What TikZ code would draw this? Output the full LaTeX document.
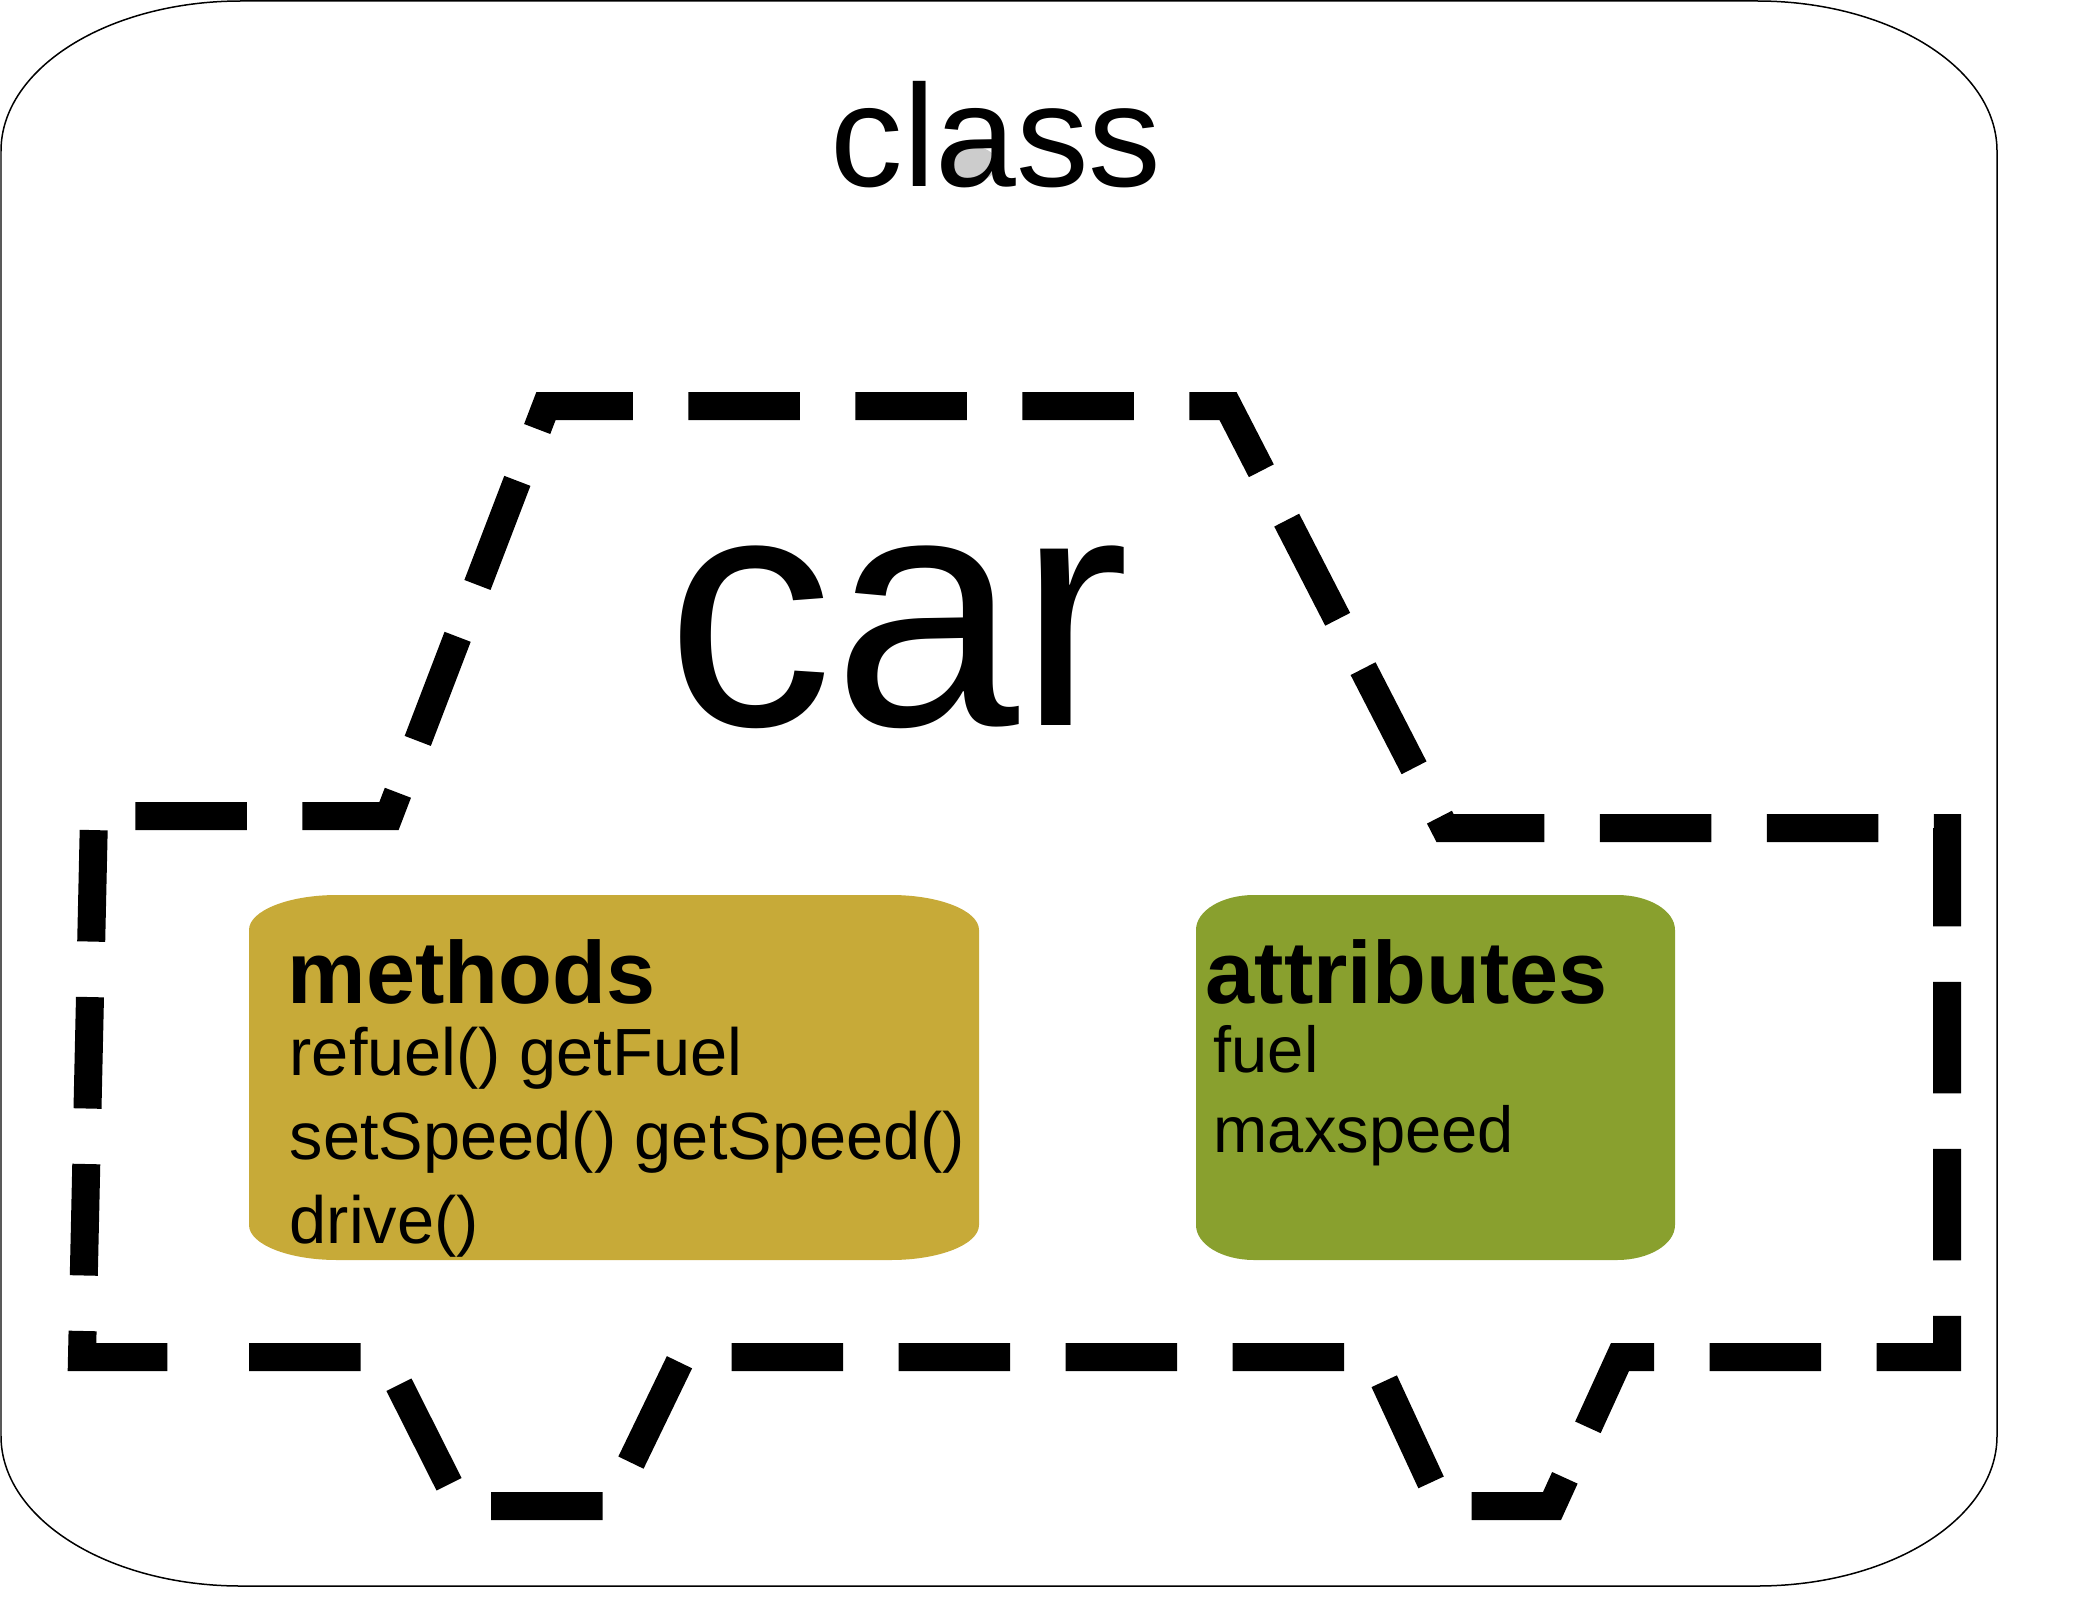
\documentclass[tikz,border=0pt]{standalone}
\usepackage{fontspec}
\setmainfont{Liberation Sans}
\usepackage{tikz}
\usetikzlibrary{positioning}
\definecolor{methgold}{RGB}{199,170,56}
\definecolor{attrgreen}{RGB}{137,160,46}

\tikzset{
  carline/.style={line width=2.8mm, dash pattern=on 11.15mm off 5.55mm, dash phase=13.9mm, line join=miter},
  boxtitle/.style={font=\fontsize{25.1}{27}\selectfont\bfseries, inner sep=0pt, anchor=base west},
  entry/.style={font=\fontsize{19}{21}\selectfont, inner sep=0pt, anchor=base west},
}

% box with oval corners: options, x1, y1, x2, y2, x radius, y radius
\newcommand{\softbox}[7]{%
  \path[#1] ({#2+#6},#3) -- ({#4-#6},#3)
    arc[start angle=270, end angle=360, x radius=#6, y radius=#7] -- (#4,{#5-#7})
    arc[start angle=0, end angle=90, x radius=#6, y radius=#7] -- ({#2+#6},#5)
    arc[start angle=90, end angle=180, x radius=#6, y radius=#7] -- (#2,{#3+#7})
    arc[start angle=180, end angle=270, x radius=#6, y radius=#7] -- cycle;}

\begin{document}
\begin{tikzpicture}[x=0.1mm, y=-0.1mm]
    \useasboundingbox (0,0) rectangle (2076,1624);

    % Outer class frame
    \softbox{draw, line width=0.15mm}{1}{1}{1997}{1586}{240}{150}
    \fill[gray!40] (975,164) ellipse[x radius=22, y radius=17];
    \node[font=\fontsize{41.3}{44}\selectfont, inner sep=0pt, anchor=base] (cls) at (996,187) {class};

    % Car outline (starts in a gap of the bottom line)
    \draw[carline] (221,1357) -- (385,1357) -- (460,1506) -- (610,1506) -- (682,1357)
        -- (1373,1357) -- (1442,1506) -- (1552,1506) -- (1620,1357) -- (1947,1357)
        -- (1947,828) -- (1445,828) -- (1228,406) -- (546,406) -- (389,816) -- (94,816)
        -- (82,1357) -- cycle;
    \node[font=\fontsize{95}{100}\selectfont, inner sep=0pt, anchor=base] (car) at (898,725) {car};

    % Methods
    \softbox{fill=methgold}{249}{895}{979}{1260}{88}{35}
    \node[boxtitle] (methods) at (287,1003) {methods};
    \foreach \m [count=\i] in {refuel() getFuel, setSpeed() getSpeed(), drive()}
        \node[entry] (meth\i) at (289,{991+84*\i}) {\m};

    % Attributes
    \softbox{fill=attrgreen}{1196}{895}{1675}{1260}{58}{35}
    \node[boxtitle] (attrs) at (1205,1003) {attributes};
    \node[entry, font=\fontsize{18.5}{20}\selectfont] (attr1) at (1213,1072) {fuel};
    \node[entry, font=\fontsize{18.5}{20}\selectfont] (attr2) at (1213,1152) {maxspeed};
\end{tikzpicture}
\end{document}
